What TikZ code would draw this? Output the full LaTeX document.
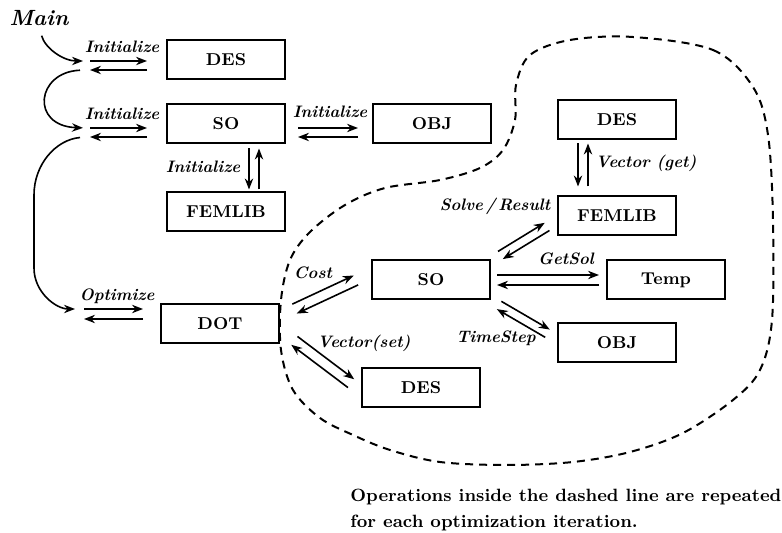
\documentclass[tikz,border=0pt]{standalone}
\usepackage{tikz}
\usetikzlibrary{arrows.meta,calc}

% two opposite arrows side by side: from, to, offset, gap at from, gap at to
\newcommand{\twoway}[5]{%
  \draw[arrow, shorten <=#4, shorten >=#5] ($(#1)!#3!90:(#2)$) -- ($(#2)!#3!-90:(#1)$);
  \draw[arrow, shorten <=#5, shorten >=#4] ($(#2)!#3!90:(#1)$) -- ($(#1)!#3!-90:(#2)$);
}

\begin{document}
\begin{tikzpicture}[x=0.5pt, y=-0.5pt,
  block/.style={draw, line width=1pt, minimum width=59pt, minimum height=19.5pt, inner sep=0pt, font=\fontsize{8.6}{9}\selectfont\bfseries},
  arrow/.style={-{Stealth[length=5.5pt,width=4.2pt]}, line width=0.8pt},
  call/.style={font=\fontsize{8.3}{9}\selectfont\bfseries\itshape, inner sep=0pt}
]
\useasboundingbox (0,0) rectangle (782,533);

% setup phase
\node[font=\fontsize{11}{12}\selectfont\bfseries\itshape, inner sep=0pt] (main) at (39,18) {Main};
\node[block] (des1) at (226,60) {DES};
\node[block] (so1) at (226,124) {SO};
\node[block] (obj1) at (432,124) {OBJ};
\node[block] (femlib1) at (226,212) {FEMLIB};
\node[block] (dot) at (220,324) {DOT};

\coordinate (in1) at (86,65.5);
\coordinate (in2) at (86,132.5);
\coordinate (in3) at (80,314);
\coordinate (loopt) at (34,195);
\coordinate (loopb) at (34,268);

\twoway{in1}{in1 -| des1.west}{2.25pt}{2pt}{9.5pt}
\twoway{in2}{in2 -| so1.west}{2.25pt}{2pt}{9.5pt}
\twoway{in3}{in3 -| dot.west}{2.5pt}{2pt}{8.5pt}
\twoway{so1.east |- in2}{obj1.west |- in2}{2.25pt}{6pt}{7pt}
\twoway{[xshift=14pt]so1.south}{[xshift=14pt]femlib1.north}{-2.5pt}{2pt}{1pt}

\draw[arrow, shorten <=5pt, shorten >=1.5pt] (main.south) to[out=-75, in=180] ([yshift=2.25pt]in1);
\draw[arrow, shorten <=3pt, shorten >=1.5pt] ([yshift=-2.25pt]in1) .. controls +(-50,2) and +(-56,-2) .. ([yshift=2.25pt]in2);
\draw[arrow, shorten <=3pt, shorten >=2.5pt] ([yshift=-2.25pt]in2) to[out=185, in=90] (loopt) -- (loopb) to[out=-90, in=180] ([yshift=2.5pt]in3);

\node[call] at (122,47) {Initialize};
\node[call] at (122,114) {Initialize};
\node[call] at (330,112) {Initialize};
\node[call] at (203,167) {Initialize};
\node[call] at (117,296) {Optimize};

% iteration loop
\node[block] (des2) at (617,120) {DES};
\node[block] (femlib2) at (617,216) {FEMLIB};
\node[block] (so2) at (431,280) {SO};
\node[block] (temp) at (666,280) {Temp};
\node[block] (obj2) at (617,343) {OBJ};
\node[block] (des3) at (421,388) {DES};

\twoway{[xshift=-17pt]des2.south}{[xshift=-17pt]femlib2.north}{-2.5pt}{1.5pt}{4.5pt}
\twoway{[yshift=9.5pt]so2.east}{[yshift=-2.3pt]femlib2.west}{2.25pt}{5.5pt}{5.8pt}
\twoway{so2.east}{temp.west}{2.5pt}{3pt}{3.5pt}
\twoway{so2.south east}{[yshift=2pt]obj2.west}{2.25pt}{4.7pt}{5.5pt}
\twoway{[yshift=4.2pt]dot.east}{[yshift=3.4pt]so2.west}{2.6pt}{8pt}{8.3pt}
\twoway{[yshift=-2.9pt]dot.east}{[yshift=-1.45pt]des3.west}{2.6pt}{9pt}{6.2pt}

\node[call] at (646,163) {Vector (get)};
\node[call] at (495,206) {Solve\,/\,Result};
\node[call] at (566,259) {GetSol};
\node[call] at (496,338) {TimeStep};
\node[call] at (313,273) {Cost};
\node[call] at (364,343) {Vector(set)};

\draw[dashed, line width=1pt, dash pattern=on 4pt off 3pt] plot[smooth cycle, tension=0.55] coordinates {
  (633,37) (713,50) (753,87) (768,135) (773,220) (772,320) (760,370) (733,400)
  (683,433) (630,452) (573,462) (507,465) (440,462) (390,450) (353,435) (320,418)
  (293,390) (281,350) (281,300) (290,260) (310,232) (345,205) (385,188) (440,180)
  (480,168) (503,150) (515,120) (516,85) (530,55) (570,40)};

\node[anchor=north west, align=left, inner sep=0pt, font=\fontsize{8.9}{13}\selectfont\bfseries] (note) at (350,489)
  {Operations inside the dashed line are repeated\\for each optimization iteration.};
\end{tikzpicture}
\end{document}
